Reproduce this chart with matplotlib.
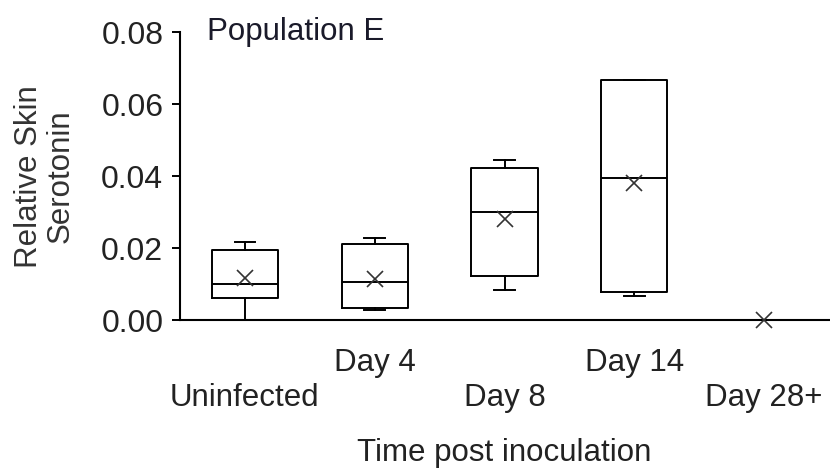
import matplotlib
matplotlib.use("Agg")
import matplotlib.pyplot as plt

plt.rcParams['font.family'] = ['Liberation Sans', 'DejaVu Sans']

categories = ["Uninfected", "Day 4", "Day 8", "Day 14", "Day 28+"]
whislo = [0.0, 0.0029, 0.0084, 0.0067, 0.0]
q1 = [0.0061, 0.0033, 0.0122, 0.0078, 0.0]
med = [0.0100, 0.0106, 0.0300, 0.0395, 0.0]
q3 = [0.0195, 0.0212, 0.0423, 0.0668, 0.0]
whishi = [0.0217, 0.0228, 0.0445, 0.0668, 0.0]
means = [0.0117, 0.0115, 0.0281, 0.0381, 0.0]
yticks = [0.00, 0.02, 0.04, 0.06, 0.08]

TEXT = '#222222'

fig = plt.figure(figsize=(8.30, 4.69), dpi=100)
ax = fig.add_axes([180/830, 1 - 320.3/469, 649/830, 288/469])

stats = []
for i, c in enumerate(categories):
    stats.append(dict(label=c, whislo=whislo[i], q1=q1[i], med=med[i],
                      q3=q3[i], whishi=whishi[i], mean=means[i], fliers=[]))

pos = list(range(len(categories)))
ax.bxp(stats, positions=pos, widths=0.51, capwidths=0.16,
       showmeans=False, showfliers=False, patch_artist=False,
       boxprops=dict(color='black', linewidth=1.4),
       whiskerprops=dict(color='black', linewidth=1.4),
       capprops=dict(color='black', linewidth=1.4),
       medianprops=dict(color='black', linewidth=1.4),
       manage_ticks=False)
ax.plot(pos, means, linestyle='none', marker='x', markersize=12,
        markeredgewidth=1.2, color='#333333', clip_on=False, zorder=5)

ax.set_xlim(-0.5, 4.5)
ax.set_ylim(0, 0.08)
ax.set_yticks(yticks)
ax.set_yticklabels([f"{v:.2f}" for v in yticks])

for s in ['top', 'right']:
    ax.spines[s].set_visible(False)
for s in ['left', 'bottom']:
    ax.spines[s].set_linewidth(1.5)
    ax.spines[s].set_color('black')

ax.tick_params(axis='y', direction='out', length=6, width=1.4, pad=6,
               labelsize=23, labelcolor=TEXT)

# staggered category labels
ax.set_xticks([0, 2, 4])
ax.set_xticklabels([categories[0], categories[2], categories[4]])
ax.set_xticks([1, 3], minor=True)
ax.set_xticklabels([categories[1], categories[3]], minor=True)
ax.tick_params(axis='x', which='major', length=0, pad=45, labelsize=22.5, labelcolor=TEXT)
ax.tick_params(axis='x', which='minor', length=0, pad=20, labelsize=22.5, labelcolor=TEXT)

ax.set_xlabel("Time post inoculation", fontsize=22.5, color=TEXT)
ax.xaxis.set_label_coords(0.5, -0.409)
ax.xaxis.label.set_va('top')

ax.set_ylabel("Relative Skin\nSerotonin", fontsize=22.5, color='#333333', linespacing=1.05)
ax.yaxis.set_label_coords(-0.2085, 0.5)
ax.yaxis.label.set_va('center')

ax.text(0.0415, 0.974, "Population E", transform=ax.transAxes, fontsize=22.5,
        color='#1a1a2a', ha='left', va='baseline')

fig.savefig("out.png", dpi=100)
